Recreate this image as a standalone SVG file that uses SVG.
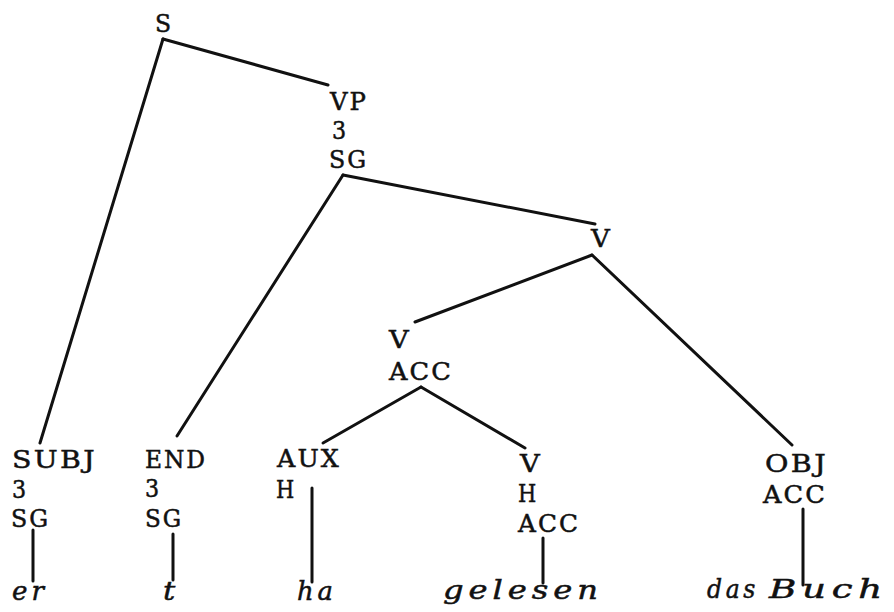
<svg xmlns="http://www.w3.org/2000/svg" width="894" height="612" viewBox="0 0 894 612">
<style>
.l{font-family:"DejaVu Serif","Liberation Serif",serif;font-size:24px;fill:#111;stroke:#111;stroke-width:0.5px;letter-spacing:2px;}
.w{font-family:"DejaVu Serif","Liberation Serif",serif;font-style:italic;font-size:26px;fill:#111;stroke:#111;stroke-width:0.5px;letter-spacing:4px;}
.c line{stroke:#111;stroke-width:3;stroke-linecap:round;}
</style>
<rect width="894" height="612" fill="#fff"/>
<g class="c" id="connectors">
<line x1="163" y1="39" x2="40" y2="443"/>
<line x1="163" y1="39" x2="328" y2="85"/>
<line x1="343" y1="175" x2="177" y2="436"/>
<line x1="343" y1="175" x2="595" y2="224"/>
<line x1="592" y1="255" x2="415" y2="322"/>
<line x1="592" y1="255" x2="792" y2="445"/>
<line x1="421" y1="387" x2="323" y2="443"/>
<line x1="421" y1="387" x2="525" y2="448"/>
<line x1="33" y1="530" x2="33" y2="581"/>
<line x1="173" y1="534" x2="173" y2="580"/>
<line x1="312" y1="488" x2="312" y2="582"/>
<line x1="543" y1="538" x2="543" y2="583"/>
<line x1="803" y1="509" x2="803" y2="585"/>
</g>
<g id="S"><text class="l" x="155" y="32" textLength="18" lengthAdjust="spacingAndGlyphs">S</text></g>
<g id="VP">
<text class="l" x="330" y="110" textLength="38" lengthAdjust="spacingAndGlyphs">VP</text>
<text class="l" x="332" y="139" textLength="16" lengthAdjust="spacingAndGlyphs">3</text>
<text class="l" x="329" y="168" textLength="39" lengthAdjust="spacingAndGlyphs">SG</text>
</g>
<g id="V1"><text class="l" x="591" y="247" textLength="21" lengthAdjust="spacingAndGlyphs">V</text></g>
<g id="V2">
<text class="l" x="389" y="348" textLength="22" lengthAdjust="spacingAndGlyphs">V</text>
<text class="l" x="389" y="380" textLength="64" lengthAdjust="spacingAndGlyphs">ACC</text>
</g>
<g id="SUBJ">
<text class="l" x="12" y="468" textLength="85" lengthAdjust="spacingAndGlyphs">SUBJ</text>
<text class="l" x="12" y="498" textLength="16" lengthAdjust="spacingAndGlyphs">3</text>
<text class="l" x="11" y="527" textLength="39" lengthAdjust="spacingAndGlyphs">SG</text>
</g>
<g id="END">
<text class="l" x="145" y="468" textLength="62" lengthAdjust="spacingAndGlyphs">END</text>
<text class="l" x="145" y="497" textLength="16" lengthAdjust="spacingAndGlyphs">3</text>
<text class="l" x="145" y="527" textLength="38" lengthAdjust="spacingAndGlyphs">SG</text>
</g>
<g id="AUX">
<text class="l" x="277" y="467" textLength="64" lengthAdjust="spacingAndGlyphs">AUX</text>
<text class="l" x="276" y="498" textLength="20" lengthAdjust="spacingAndGlyphs">H</text>
</g>
<g id="V3">
<text class="l" x="520" y="472" textLength="22" lengthAdjust="spacingAndGlyphs">V</text>
<text class="l" x="518" y="502" textLength="20" lengthAdjust="spacingAndGlyphs">H</text>
<text class="l" x="518" y="532" textLength="62" lengthAdjust="spacingAndGlyphs">ACC</text>
</g>
<g id="OBJ">
<text class="l" x="765" y="472" textLength="63" lengthAdjust="spacingAndGlyphs">OBJ</text>
<text class="l" x="763" y="503" textLength="64" lengthAdjust="spacingAndGlyphs">ACC</text>
</g>
<g id="words">
<text class="w" x="12" y="600" textLength="36" lengthAdjust="spacingAndGlyphs">er</text>
<text class="w" x="163" y="600" textLength="17" lengthAdjust="spacingAndGlyphs">t</text>
<text class="w" x="297" y="600" textLength="40" lengthAdjust="spacingAndGlyphs">ha</text>
<text class="w" x="443" y="599" textLength="160" lengthAdjust="spacingAndGlyphs">gelesen</text>
<text class="w" x="707" y="598" textLength="52" lengthAdjust="spacingAndGlyphs">das</text>
<text class="w" x="769" y="598" textLength="119" lengthAdjust="spacingAndGlyphs">Buch</text>
</g>
</svg>
